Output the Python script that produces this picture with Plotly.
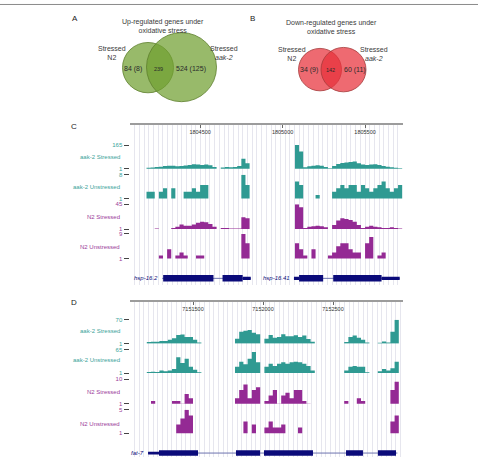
import plotly.graph_objects as go

W, H = 478, 460
def fx(px): return px / W
def fy(py): return 1 - py / H

FONT = "Liberation Sans, Arial, sans-serif"
TEAL = "#2f9a92"
PURPLE = "#942a94"
TEAL_TXT = "#3aa39a"
PURPLE_TXT = "#9a3c9a"
NAVY = "#0b0b7a"
GRID = "#e6e6ee"

# ---------------- Venn data ----------------
VENN_UP_TITLE = "Up-regulated genes under<br>oxidative stress"
VENN_DOWN_TITLE = "Down-regulated genes under<br>oxidative stress"
VENN_SETS = ["Stressed<br>N2", "Stressed<br><i>aak-2</i>"]
VENN_UP_COUNTS = ["84 (8)", "239", "524 (125)"]
VENN_DOWN_COUNTS = ["34 (9)", "142", "60 (11)"]

# ---------------- Panel C data (hsp-16.2 / hsp-16.41 locus) ----------------
C_START, C_END, C_BIN = 1804075, 1805730, 25
C_TICKS = [1804500, 1805000, 1805500]
C_AAK2_S = [0, 0, 0, 0, 8, 10, 14, 16, 20, 23, 22, 18, 20, 24, 28, 32, 30, 28, 30, 26, 14,
            0, 10, 14, 12, 14, 20, 70, 40,
            0, 0, 0, 0, 0, 0, 0, 0, 0, 0, 0,
            165, 120, 12, 18, 22, 25, 22, 14, 5,
            20, 35, 42, 45, 48, 52, 40, 30, 28, 30, 32, 28, 20, 16, 12, 8, 5]
C_AAK2_U = [0, 0, 0, 0, 3, 3, 0, 3, 4, 0, 4, 0, 0, 3, 3, 4, 3, 5, 5, 0,
            0, 0, 0, 0, 0, 0, 0, 8, 5,
            0, 0, 0, 0, 0, 0, 0, 0, 0, 0, 0,
            6, 5, 0, 0, 0, 2, 0, 0, 0,
            3, 4, 5, 4, 5, 5, 3, 5, 4, 3, 4, 5, 6, 4, 3, 4, 5]
C_N2_S = [0, 0, 0, 0, 0, 0, 2, 0, 0, 0, 3, 5, 9, 7, 7, 9, 12, 14, 13, 10, 5,
          0, 3, 3, 2, 2, 2, 22, 20,
          0, 0, 0, 0, 0, 0, 0, 0, 0, 0, 0,
          45, 40, 3, 5, 6, 7, 6, 4, 0,
          8, 16, 20, 19, 17, 14, 8, 3, 5, 7, 5, 4, 3, 3, 4, 3, 2]
C_N2_U = [0, 0, 0, 0, 0, 0, 0, 2, 0, 4, 0, 2, 3, 2, 0, 0, 2, 2, 0, 0, 0,
          0, 0, 0, 0, 0, 0, 9, 6,
          0, 0, 0, 0, 0, 0, 0, 0, 0, 0, 0,
          6, 4, 2, 0, 4, 0, 0, 0, 2,
          3, 5, 6, 6, 4, 3, 3, 0, 6, 8, 0, 2, 3, 0, 0, 0, 0]
C_MAX = [165, 8, 45, 9]
C_GENES = ["hsp-16.2", "hsp-16.41"]
C_GENE_SPAN = [(1804270, 1804807), (1805069, 1805710)]
C_CDS = [(1804276, 1804581), (1804636, 1804758), (1805100, 1805246), (1805307, 1805600)]
C_UTR = [(1804758, 1804807), (1805069, 1805100), (1805600, 1805710)]

# ---------------- Panel D data (fat-7 locus) ----------------
D_START, D_END, D_BIN = 7151050, 7153000, 30
D_TICKS = [7151500, 7152000, 7152500]
D_AAK2_S = [0, 0, 0, 0, 5, 6, 6, 8, 8, 12, 16, 26, 27, 20, 20, 12, 4,
            0, 0, 0, 0, 0, 0, 0, 0,
            15, 35, 38, 40, 32, 28, 0,
            15, 26, 18, 20, 28, 22, 22, 25, 20, 24, 14, 6,
            0, 0, 0, 0, 0, 0, 0,
            5, 20, 24, 18, 12, 4, 0, 0, 3, 7, 4, 35, 70, 0]
D_AAK2_U = [0, 0, 0, 0, 4, 5, 4, 8, 6, 8, 12, 44, 28, 40, 18, 10, 3,
            0, 0, 0, 0, 0, 0, 0, 0,
            18, 32, 25, 40, 58, 30, 0,
            18, 26, 20, 26, 30, 26, 30, 32, 30, 26, 20, 8,
            0, 0, 0, 0, 0, 0, 0,
            8, 18, 20, 18, 18, 3, 0, 0, 6, 12, 8, 14, 32, 0]
D_N2_S = [0, 0, 0, 0, 0, 2, 0, 0, 0, 0, 2, 2, 1, 4.5, 3, 0, 0,
          0, 0, 0, 0, 0, 0, 0, 0,
          3, 6, 8, 3, 6, 7, 0,
          2, 4, 6, 1, 4, 5, 3, 6, 6, 2, 1, 0,
          0, 0, 0, 0, 0, 0, 0,
          2, 0, 0, 3, 2, 0, 0, 0, 0, 0, 0, 6, 9, 0]
D_N2_U = [0, 0, 0, 0, 0, 0, 0, 0, 0, 0, 0, 2.5, 3.5, 5, 4, 0, 0,
          0, 0, 0, 0, 0, 0, 0, 0,
          0, 0, 3, 0, 2.5, 0, 0,
          2, 3, 2, 2, 2.5, 0, 0, 0, 2, 0, 0, 0,
          0, 0, 0, 0, 0, 0, 0,
          0, 0, 0, 0, 0, 0, 0, 0, 0, 0, 0, 3, 4, 0]
D_MAX = [70, 65, 10, 5]
D_GENES = ["fat-7"]
D_GENE_SPAN = [(7151179, 7152960)]
D_CDS = [(7151257, 7151536), (7151807, 7151979), (7152007, 7152357), (7152593, 7152714), (7152821, 7152950)]
D_UTR = [(7151179, 7151257)]

TRACK_NAMES = ["aak-2 Stressed", "aak-2 Unstressed", "N2 Stressed", "N2 Unstressed"]
TRACK_COLORS = [TEAL, TEAL, PURPLE, PURPLE]
TRACK_TXT = [TEAL_TXT, TEAL_TXT, PURPLE_TXT, PURPLE_TXT]

fig = go.Figure()
layout = {}
shapes = []
annotations = []
_ax = [0]

def new_axes():
    _ax[0] += 1
    return _ax[0]

def ann(text, x, y, size=7, color="#333", xanchor="center", yanchor="middle", align="center", xref="paper", yref="paper", **kw):
    annotations.append(dict(text=text, x=x, y=y, xref=xref, yref=yref, showarrow=False,
                            xanchor=xanchor, yanchor=yanchor, align=align,
                            font=dict(family=FONT, size=size, color=color), **kw))

def dummy(a, x, y):
    fig.add_trace(go.Scatter(x=[x], y=[y], mode="markers", marker=dict(opacity=0),
                             xaxis=f"x{a}", yaxis=f"y{a}", hoverinfo="skip", showlegend=False))

def build_panel(start, end, binw, ticks, grid_step, top_px, bottom_px,
                tracks, maxes, track_px, label_px, gene_names, spans, cds, utr, gene_px):
    # light vertical guidelines
    a = new_axes()
    layout[f"xaxis{a}"] = dict(domain=[fx(130), fx(403)], range=[start, end], anchor=f"y{a}",
                               tickmode="linear", tick0=start, dtick=grid_step, showticklabels=False,
                               ticks="", showline=False, showgrid=True, gridcolor=GRID, gridwidth=1,
                               zeroline=False)
    layout[f"yaxis{a}"] = dict(domain=[fy(bottom_px), fy(top_px)], range=[0, 1], visible=False, anchor=f"x{a}")
    dummy(a, start, -1)
    # ruler
    a = new_axes()
    layout[f"xaxis{a}"] = dict(domain=[fx(130), fx(403)], range=[start, end], anchor=f"y{a}",
                               side="top", showline=True, linecolor="#9c9c9c", linewidth=1.5,
                               tickmode="array", tickvals=ticks, ticktext=[str(t) for t in ticks],
                               ticks="inside", ticklen=3, tickcolor="#666", ticklabelposition="inside",
                               tickfont=dict(family=FONT, size=5.5, color="#333"),
                               showgrid=False, zeroline=False)
    layout[f"yaxis{a}"] = dict(domain=[fy(top_px + 14), fy(top_px)], range=[0, 1], visible=False, anchor=f"x{a}")
    dummy(a, start, -1)
    starts = [start + i * binw for i in range(len(tracks[0]))]
    for k, (vals, mx, (t_top, t_bot), lab_y) in enumerate(zip(tracks, maxes, track_px, label_px)):
        a = new_axes()
        layout[f"xaxis{a}"] = dict(domain=[fx(130), fx(403)], range=[start, end], anchor=f"y{a}",
                                   visible=False)
        layout[f"yaxis{a}"] = dict(domain=[fy(t_bot), fy(t_top)], range=[1, mx], anchor="free",
                                   position=fx(128.5), tickmode="array", tickvals=[1, mx],
                                   ticktext=["1", str(mx)], ticks="outside", ticklen=5, tickwidth=1,
                                   tickcolor="#444", tickfont=dict(family=FONT, size=6, color=TRACK_TXT[k]),
                                   showgrid=False, zeroline=False, showline=False)
        xs = starts + [starts[-1] + binw]
        ys = list(vals) + [vals[-1]]
        fig.add_trace(go.Scatter(x=xs, y=ys, mode="lines", line=dict(width=0, shape="hv"),
                                 fill="tozeroy", fillcolor=TRACK_COLORS[k],
                                 xaxis=f"x{a}", yaxis=f"y{a}", hoverinfo="skip", showlegend=False))
        ann(TRACK_NAMES[k], fx(121.5), fy(lab_y), size=6, color=TRACK_TXT[k], xanchor="right")
    # gene model
    g = new_axes()
    g_top, g_bot, g_rng = gene_px
    layout[f"xaxis{g}"] = dict(domain=[fx(130), fx(403)], range=[start, end], anchor=f"y{g}", visible=False)
    layout[f"yaxis{g}"] = dict(domain=[fy(g_bot), fy(g_top)], range=g_rng, anchor=f"x{g}", visible=False)
    dummy(g, start, 5)
    for name, (s, e) in zip(gene_names, spans):
        shapes.append(dict(type="line", xref=f"x{g}", yref=f"y{g}", x0=s, x1=e, y0=0, y1=0,
                           line=dict(color="#6d74b0", width=1)))
        ann(f"<i>{name}</i>", s, 0, size=6, color=NAVY, xanchor="right",
            xref=f"x{g}", yref=f"y{g}", xshift=-2)
    for s, e in cds:
        shapes.append(dict(type="rect", xref=f"x{g}", yref=f"y{g}", x0=s, x1=e, y0=-0.55, y1=0.55,
                           fillcolor=NAVY, line=dict(width=0)))
    for s, e in utr:
        shapes.append(dict(type="rect", xref=f"x{g}", yref=f"y{g}", x0=s, x1=e, y0=-0.28, y1=0.28,
                           fillcolor=NAVY, line=dict(width=0)))

build_panel(C_START, C_END, C_BIN, C_TICKS, 28.5, 124, 286,
            [C_AAK2_S, C_AAK2_U, C_N2_S, C_N2_U], C_MAX,
            [(144, 168), (174, 198), (204, 229), (234, 259)], [156, 186, 217, 247],
            C_GENES, C_GENE_SPAN, C_CDS, C_UTR, (273, 285, [-1, 1]))
build_panel(D_START, D_END, D_BIN, D_TICKS, 33.3, 303, 460,
            [D_AAK2_S, D_AAK2_U, D_N2_S, D_N2_U], D_MAX,
            [(321, 345), (351, 375), (381, 406), (412, 436)], [332, 362, 394, 427],
            D_GENES, D_GENE_SPAN, D_CDS, D_UTR, (450, 460, [-0.8, 1.2]))

# ---------------- Venn diagrams (pixel-space axis) ----------------
v = new_axes()
layout[f"xaxis{v}"] = dict(domain=[0, 1], range=[0, W], anchor=f"y{v}", visible=False)
layout[f"yaxis{v}"] = dict(domain=[0, 1], range=[H, 0], anchor=f"x{v}", visible=False)
dummy(v, -10, -10)

VENN_GEOM = {
    "up": dict(circles=[(148, 65.5, 25.5), (181.5, 65, 35)], fill="rgba(112,160,48,0.72)",
               line="#5d7f2c", title=(163, 23.5), sets=[(112, 51), (224, 51)],
               counts=[(133, 67), (158.5, 67), (190.5, 67)]),
    "down": dict(circles=[(320, 67.5, 21.5), (343.5, 67.5, 22.5)], fill="rgba(232,48,58,0.72)",
                 line="#a43a3a", title=(331, 24), sets=[(292, 51.5), (374, 51.5)],
                 counts=[(309, 68), (330.5, 68), (354.5, 68)]),
}
for key, title, counts in [("up", VENN_UP_TITLE, VENN_UP_COUNTS), ("down", VENN_DOWN_TITLE, VENN_DOWN_COUNTS)]:
    gm = VENN_GEOM[key]
    for cx, cy, r in gm["circles"]:
        shapes.append(dict(type="circle", xref=f"x{v}", yref=f"y{v}", x0=cx - r, x1=cx + r,
                           y0=cy - r, y1=cy + r, fillcolor=gm["fill"],
                           line=dict(color=gm["line"], width=0.8), layer="below"))
    tx, ty = gm["title"]
    ann(title, fx(tx), fy(ty), size=7, color="#3a3a3a")
    for (sx, sy), s in zip(gm["sets"], VENN_SETS):
        ann(s, fx(sx), fy(sy), size=7, color="#3a3a3a")
    for i, ((nx, ny), c) in enumerate(zip(gm["counts"], counts)):
        ann(c, fx(nx), fy(ny), size=5.5 if i == 1 else 7, color="#2a2a2a")

# panel letters
for letter, (px, py) in zip("ABCD", [(75, 16), (252, 16), (74, 125), (74, 303)]):
    ann(letter, fx(px), fy(py), size=8, color="#222")

# top border line
shapes.append(dict(type="line", xref="paper", yref="paper", x0=0, x1=1, y0=fy(1.5), y1=fy(1.5),
                   line=dict(color="#8a8a8a", width=1)))

layout = {k.replace("axis1", "axis", 1) if k in ("xaxis1", "yaxis1") else k: val for k, val in layout.items()}
fig.update_layout(width=W, height=H, margin=dict(l=0, r=0, t=0, b=0),
                  paper_bgcolor="white", plot_bgcolor="rgba(0,0,0,0)",
                  showlegend=False, shapes=shapes, annotations=annotations,
                  font=dict(family=FONT), **layout)
fig.write_html("out.html")
